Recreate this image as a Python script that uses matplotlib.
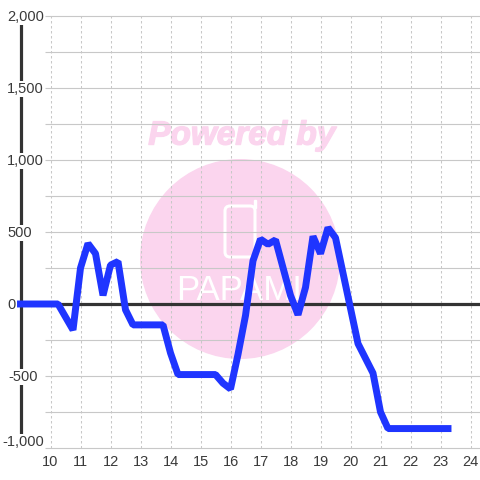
import matplotlib
matplotlib.use("Agg")
import matplotlib.pyplot as plt
import matplotlib.patheffects as pe
from matplotlib.patches import Circle, FancyBboxPatch, Rectangle

hours = [9, 10.25, 10.75, 11, 11.25, 11.5, 11.75, 12, 12.25, 12.5, 12.75, 13.75, 14, 14.25, 15.5,
         15.75, 16, 16.25, 16.5, 16.75, 17, 17.25, 17.5, 18, 18.25, 18.5, 18.75, 19, 19.25, 19.5,
         20.25, 20.75, 21, 21.25, 23.25]
values = [0, 0, -180, 250, 420, 350, 60, 270, 295, -40, -145, -145, -340, -490, -490,
          -550, -590, -350, -80, 300, 450, 415, 445, 60, -75, 115, 470, 350, 530, 460,
          -275, -480, -750, -865, -865]
y_ticks = [2000, 1500, 1000, 500, 0, -500, -1000]
y_labels = ["2,000", "1,500", "1,000", "500", "0", "-500", "-1,000"]
y_minor = [1750, 1250, 750, 250, -250, -750]
x_ticks = list(range(10, 25))

PX_X = 30.0
PX_Y = 0.144
TEXT = "#3a3a3a"
GRID = "#c8c8c8"
PINK = "#fbd5ee"
plt.rcParams["font.family"] = ["Liberation Sans", "DejaVu Sans"]

fig = plt.figure(figsize=(4.8, 4.8), dpi=100, facecolor="white")

# watermark layer in pixel coordinates
wm = fig.add_axes([0, 0, 1, 1], zorder=0)
wm.set_xlim(0, 480); wm.set_ylim(480, 0); wm.axis("off")
wm.add_patch(Circle((240, 259), 100, fc=PINK, ec="none"))
wm.add_patch(FancyBboxPatch((225, 206), 30, 51, boxstyle="round,pad=0,rounding_size=5",
                            fc="none", ec="white", lw=2.2))
wm.add_patch(Rectangle((254, 200), 2, 8, fc="white", ec="white", lw=1))
wm.text(242, 136, "Powered by", color=PINK, fontsize=24, fontweight="bold", fontstyle="italic",
        ha="center", va="center", family="Liberation Sans",
        path_effects=[pe.withStroke(linewidth=1.0, foreground=PINK)])
wm.text(239, 290, "PAPAMI", color="white", fontsize=25, ha="center", va="center",
        family="Liberation Sans")

ax = fig.add_axes([0, 0, 1, 1], zorder=1)
ax.patch.set_alpha(0)
ax.set_xlim(10 - 50.5 / PX_X, 10 + (480 - 50.5) / PX_X)
ax.set_ylim(-(480 - 304) / PX_Y, 304 / PX_Y)
for s in ax.spines.values():
    s.set_visible(False)
ax.tick_params(left=False, bottom=False, labelleft=False, labelbottom=False)

x_left = 10 - 30 / PX_X
x_grid0 = 10 - 5.5 / PX_X
for v in y_ticks + y_minor:
    ax.plot([x_grid0, ax.get_xlim()[1]], [v, v], color=GRID, lw=0.8, zorder=1, solid_capstyle="butt")
for h in x_ticks:
    ax.plot([h, h], [-1000, 2000], color=GRID, lw=0.75, ls=(0, (2.4, 2.4)), zorder=1)
    ax.text(h, -1000 - 14 / PX_Y, str(h), color=TEXT, fontsize=10.5, ha="center", va="center", zorder=5)

ax.plot([x_left, ax.get_xlim()[1]], [0, 0], color="#333333", lw=2.3, zorder=2, solid_capstyle="butt")
ax.plot([x_left, x_left], [-915, 1945], color="#333333", lw=2.3, zorder=2, solid_capstyle="butt")

ax.plot(hours, values, color="#1f35ff", lw=5, zorder=3, solid_joinstyle="bevel",
        solid_capstyle="projecting")

for v, lab in zip(y_ticks, y_labels):
    xpx = 2 if v == -1000 else (8 if v == -500 else 7)
    ypx = 6 if v == -1000 else -1
    ax.text(10 + (xpx - 50.5) / PX_X, v + ypx / PX_Y, lab, color=TEXT, fontsize=10.5,
            ha="left", va="center", zorder=6,
            bbox=dict(fc="white", ec="none", pad=1.0) if v != 0 else None)

fig.savefig("out.png", dpi=100)
